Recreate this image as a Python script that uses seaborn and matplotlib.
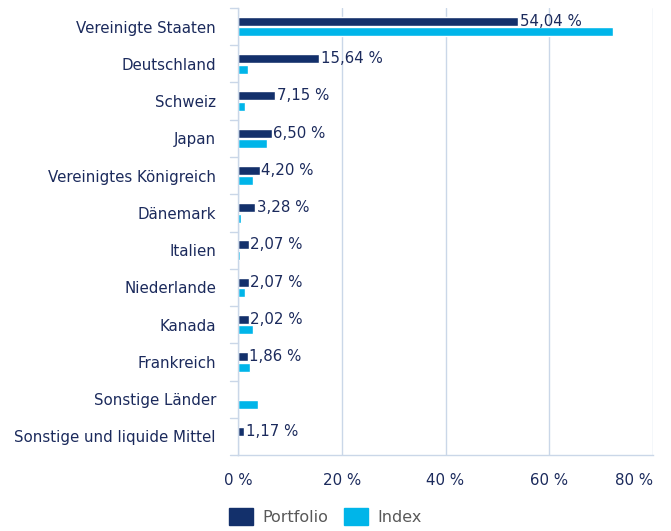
import pandas as pd
import matplotlib
matplotlib.use("Agg")
import matplotlib.pyplot as plt
import seaborn as sns

# Data
countries = ['Vereinigte Staaten', 'Deutschland', 'Schweiz', 'Japan', 'Vereinigtes Königreich',
             'Dänemark', 'Italien', 'Niederlande', 'Kanada', 'Frankreich',
             'Sonstige Länder', 'Sonstige und liquide Mittel']
portfolio = [54.04, 15.64, 7.15, 6.50, 4.20, 3.28, 2.07, 2.07, 2.02, 1.86, 0.0, 1.17]
index_vals = [72.4, 1.9, 1.4, 5.5, 2.8, 0.6, 0.3, 1.4, 2.8, 2.2, 3.9, 0.0]
portfolio_labels = ['54,04 %', '15,64 %', '7,15 %', '6,50 %', '4,20 %', '3,28 %',
                    '2,07 %', '2,07 %', '2,02 %', '1,86 %', '', '1,17 %']
xticks = [0, 20, 40, 60, 80]
xtick_labels = ['0 %', '20 %', '40 %', '60 %', '80 %']

navy = '#13306b'
cyan = '#00b5e9'
text_col = '#1b2a5c'
grid_col = '#cad7e8'

df = pd.DataFrame({
    'Land': countries * 2,
    'Wert': portfolio + index_vals,
    'Serie': ['Portfolio'] * len(countries) + ['Index'] * len(countries),
})

sns.set_style('white')
plt.rcParams['font.family'] = ['DejaVu Sans']

fig = plt.figure(figsize=(6.71, 5.31), dpi=100)
ax = fig.add_axes([0.355, 0.143, 0.618, 0.842])

sns.barplot(data=df, y='Land', x='Wert', hue='Serie', orient='h',
            palette={'Portfolio': navy, 'Index': cyan}, width=0.56, gap=0.15,
            saturation=1, ax=ax, legend=False)

ax.bar_label(ax.containers[0], labels=portfolio_labels, padding=1,
             fontsize=10.8, color=text_col)

ax.set_xlim(0, 80)
ax.set_xticks(xticks)
ax.set_xticklabels(xtick_labels, fontsize=10.8, color=text_col)
ax.get_xticklabels()[-1].set_horizontalalignment('right')
ax.tick_params(axis='x', length=0, pad=13)
ax.tick_params(axis='y', length=0, pad=16, labelsize=10.8, labelcolor=text_col)
ax.set_xlabel('')
ax.set_ylabel('')

ax.xaxis.grid(True, color=grid_col, linewidth=1)
ax.set_axisbelow(True)
for side in ['top', 'right']:
    ax.spines[side].set_visible(False)
for side in ['left', 'bottom']:
    ax.spines[side].set_color(grid_col)
    ax.spines[side].set_linewidth(1)

# small separators between categories on the left axis
for i in range(len(countries) + 1):
    ax.plot([-1.5, 0], [i - 0.5, i - 0.5], color=grid_col, lw=1, clip_on=False)
ax.set_ylim(len(countries) - 0.5, -0.5)

handles = [plt.Rectangle((0, 0), 1, 1, color=navy), plt.Rectangle((0, 0), 1, 1, color=cyan)]
fig.legend(handles, ['Portfolio', 'Index'], loc='center', bbox_to_anchor=(0.485, 0.027),
           ncol=2, frameon=False, fontsize=11.5, handlelength=1.5, handleheight=1.2,
           columnspacing=1.0, handletextpad=0.6, labelcolor='#595959')

fig.savefig('out.png', dpi=100)
